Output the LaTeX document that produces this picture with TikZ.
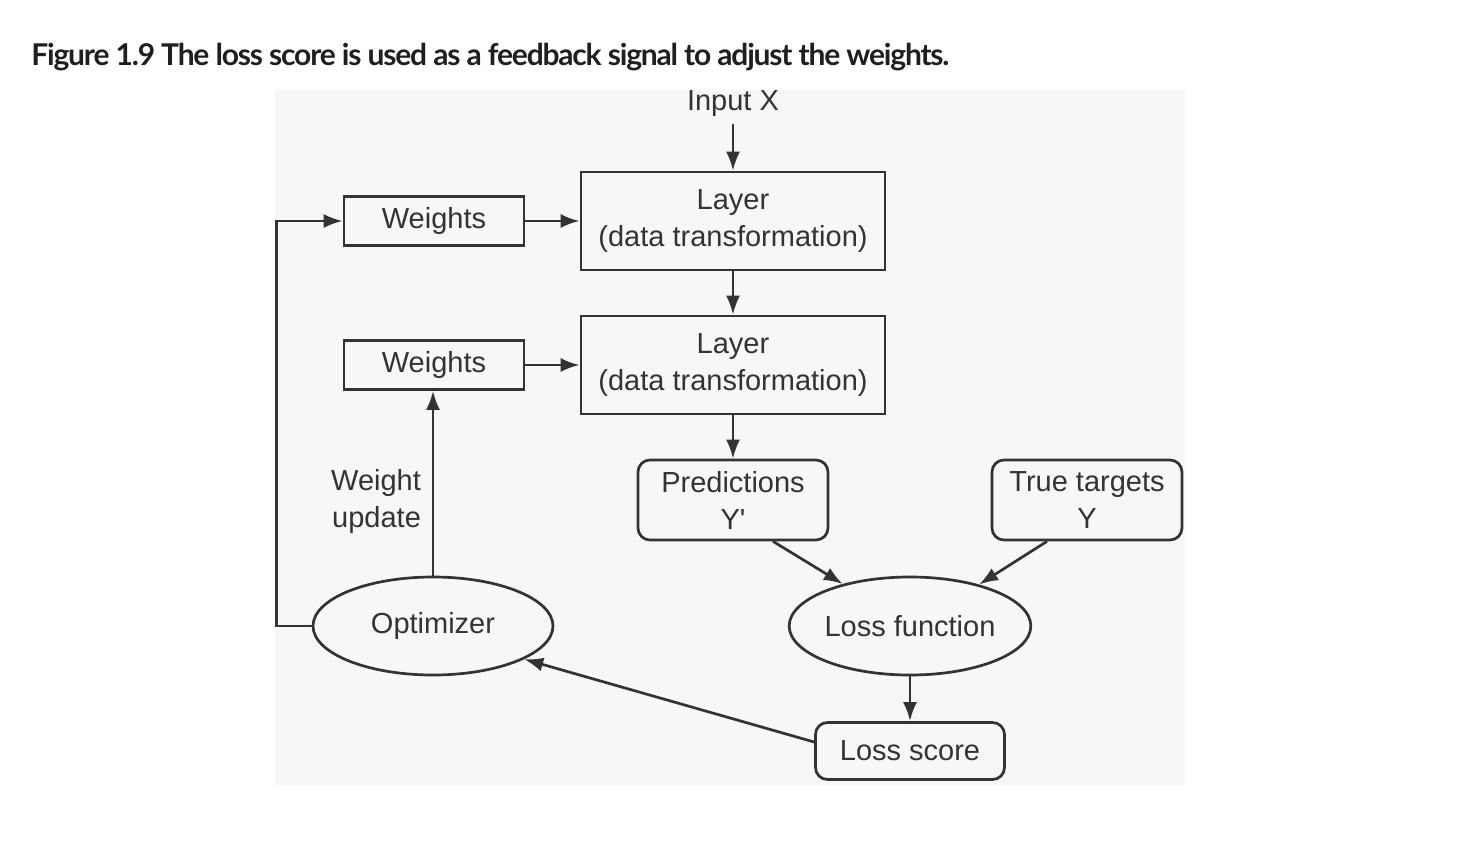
\documentclass[tikz,border=0pt]{standalone}
\usepackage{fontspec}
\setmainfont{Liberation Sans}
\newfontfamily\titlefont[LetterSpace=-4]{Lato}
\usetikzlibrary{arrows.meta,shapes.geometric}
\definecolor{ink}{HTML}{333333}
\definecolor{panel}{HTML}{F7F7F7}

\begin{document}
\begin{tikzpicture}[x=0.5pt,y=-0.5pt,
  every node/.style={text=ink,font=\fontsize{14.5}{18.5}\selectfont},
  layerbox/.style={draw=ink,line width=1.35pt,minimum width=152pt,minimum height=49pt,align=center,inner sep=0pt},
  weightbox/.style={draw=ink,line width=1.35pt,minimum width=90pt,minimum height=24.5pt,inner sep=0pt},
  roundbox/.style={draw=ink,line width=1.35pt,rounded corners=6pt,align=center,inner sep=0pt},
  oval/.style={draw=ink,line width=1.35pt,ellipse,minimum width=120pt,minimum height=49pt,inner sep=0pt},
  link/.style={draw=ink,line width=1.35pt,-{Latex[length=9.5pt,width=7pt]}}]
  \useasboundingbox (0,0) rectangle (1458,846);
  \fill[panel] (275,90) rectangle (1185,785);

  \node[anchor=base west,inner sep=0pt,text=black!88,font=\titlefont\bfseries\fontsize{15}{18}\selectfont] (title) at (31,65)
    {Figure 1.9 The loss score is used as a feedback signal to adjust the weights.};

  \node (input) at (733,104) {Input X};
  \node[layerbox] (layer1) at (733,221) {Layer\\(data transformation)};
  \node[layerbox] (layer2) at (733,365) {Layer\\(data transformation)};
  \node[weightbox] (weights1) at (434,221) {Weights};
  \node[weightbox] (weights2) at (434,365) {Weights};
  \node[roundbox,minimum width=95pt,minimum height=40pt] (pred) at (733,500) {Predictions\\Y\textquotesingle};
  \node[roundbox,minimum width=95pt,minimum height=40pt] (targets) at (1087,500) {True targets\\Y};
  \node[oval] (lossfn) at (910,626) {Loss function};
  \node[oval] (optim) at (433,626) {Optimizer};
  \node[roundbox,minimum width=94.5pt,minimum height=28.5pt] (score) at (910,751) {Loss score};
  \node[anchor=east,align=right] (update) at (428,501) {Weight\\update};

  \draw[link] (input) -- (layer1);
  \draw[link] (layer1) -- (layer2);
  \draw[link] (weights1.east) -- (weights1.east -| layer1.west);
  \draw[link] (weights2.east) -- (weights2.east -| layer2.west);
  \draw[link] (layer2) -- (pred);
  \draw[link] ([xshift=20pt]pred.south) -- (lossfn.148);
  \draw[link] ([xshift=-20pt]targets.south) -- (lossfn.31);
  \draw[link] (lossfn) -- (score);
  \draw[link] ([yshift=4.5pt]score.west) -- (optim.-20);
  \draw[link] (optim.north) -- (optim.north |- weights2.south);
  \draw[link] (optim.west) -- ++(-35,0) |- (weights1.west);
\end{tikzpicture}
\end{document}
